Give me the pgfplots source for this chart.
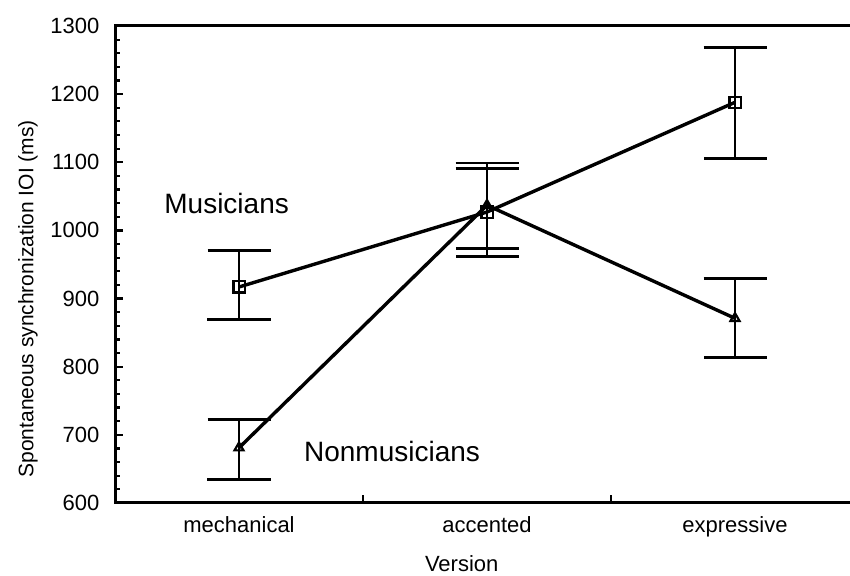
\documentclass[border=0pt]{standalone}
\usepackage{pgfplots}
\pgfplotsset{compat=1.18}
\usepackage{fontspec}
\setmainfont{Liberation Sans}
\begin{document}
\begin{tikzpicture}
\begin{axis}[
  name=ax, scale only axis, width=372pt, height=238.5pt,
  xmin=-0.5, xmax=2.5, ymin=600, ymax=1300,
  ytick={600,700,...,1300}, minor y tick num=4,
  xtick={0.5,1.5}, xticklabels={},
  extra x ticks={0,1,2}, extra x tick labels={mechanical,accented,expressive},
  extra x tick style={major tick length=0pt},
  tick align=inside, tick pos=left,
  major tick length=4pt, minor tick length=2.5pt,
  every tick/.style={black, line width=1.1pt},
  axis line style={line width=1.5pt},
  /pgf/number format/assume math mode=true,
  /pgf/number format/1000 sep={},
  tick label style={font=\fontsize{11}{13}\selectfont},
  yticklabel style={xshift=-4.3pt},
  xticklabel style={yshift=-3pt},
  ylabel={Spontaneous synchronization IOI (ms)},
  xlabel={Version},
  every axis y label/.style={at={(axis description cs:-0.117,0.428)}, rotate=90, anchor=center, font=\fontsize{10.5}{12}\selectfont},
  every axis x label/.style={at={(axis description cs:0.466,-0.128)}, anchor=center, font=\fontsize{11}{13}\selectfont},
  clip=false,
]
\addplot[black, line width=1.7pt, mark=square, mark size=2.8pt, mark options={fill=white, line width=1.1pt},
  error bars/.cd, y dir=both, y explicit,
  error bar style={line width=1.4pt},
  error mark options={rotate=90, mark size=15.75pt, line width=1.4pt}]
  coordinates {
  (0,917) += (0,54) -= (0,48)
  (1,1027) += (0,72) -= (0,65)
  (2,1188) += (0,81) -= (0,82)
  };
\addplot[black, line width=1.7pt, mark=triangle, mark size=2.6pt, mark options={fill=white, line width=1.1pt},
  error bars/.cd, y dir=both, y explicit,
  error bar style={line width=1.4pt},
  error mark options={rotate=90, mark size=15.75pt, line width=1.4pt}]
  coordinates {
  (0,681) += (0,41) -= (0,46)
  (1,1037) += (0,54) -= (0,64)
  (2,871) += (0,59) -= (0,58)
  };
\node[font=\fontsize{14}{16}\selectfont] at (axis cs:-0.05,1040) {Musicians};
\node[font=\fontsize{14}{16}\selectfont] at (axis cs:0.617,675) {Nonmusicians};
\end{axis}
\pgfresetboundingbox
\path[use as bounding box] ([shift={(-57.5pt,-36.5pt)}]ax.south west) rectangle ([shift={(367.5pt,13pt)}]ax.south west |- ax.north west);
\end{tikzpicture}
\end{document}
